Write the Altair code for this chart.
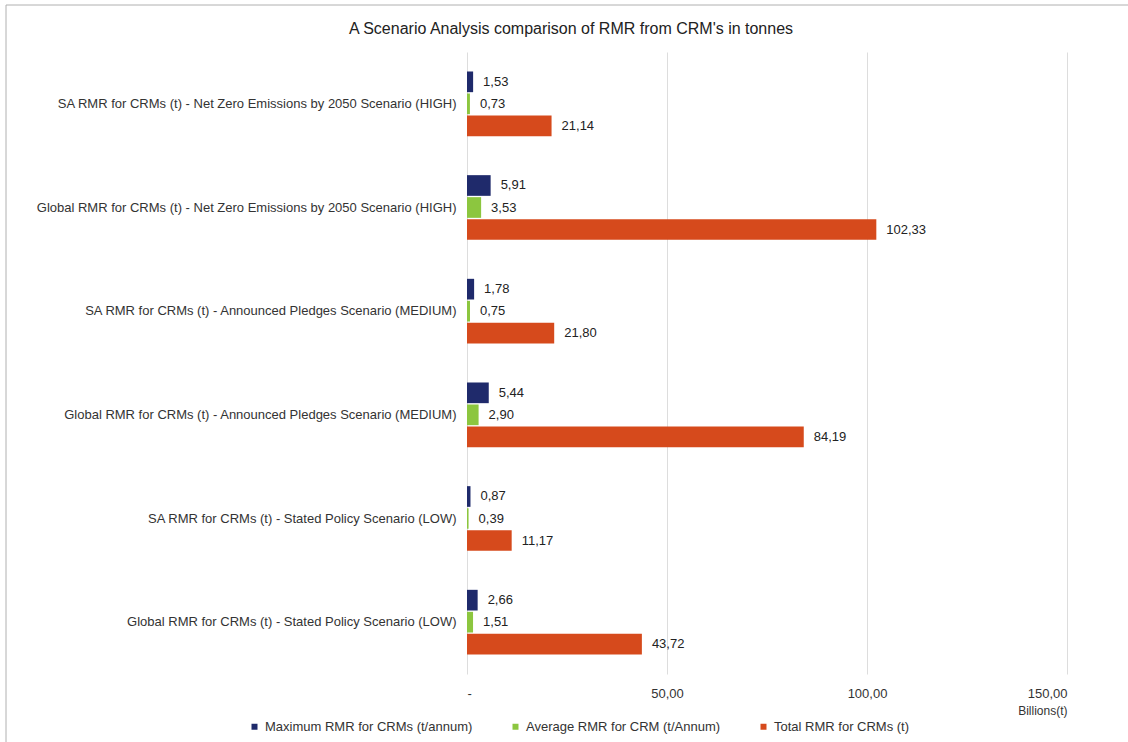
import altair as alt
import pandas as pd

title_text = "A Scenario Analysis comparison of RMR from CRM's in tonnes"
categories = [
    "SA RMR for CRMs (t) - Net Zero Emissions by 2050 Scenario (HIGH)",
    "Global RMR for CRMs (t) - Net Zero Emissions by 2050 Scenario (HIGH)",
    "SA RMR for CRMs (t) - Announced Pledges Scenario (MEDIUM)",
    "Global RMR for CRMs (t) - Announced Pledges Scenario (MEDIUM)",
    "SA RMR for CRMs (t) - Stated Policy Scenario (LOW)",
    "Global RMR for CRMs (t) - Stated Policy Scenario (LOW)",
]
series = [
    "Maximum RMR for CRMs (t/annum)",
    "Average RMR for CRM (t/Annum)",
    "Total RMR for CRMs (t)",
]
max_vals = [1.53, 5.91, 1.78, 5.44, 0.87, 2.66]
avg_vals = [0.73, 3.53, 0.75, 2.90, 0.39, 1.51]
total_vals = [21.14, 102.33, 21.80, 84.19, 11.17, 43.72]
colors = ["#1f2a6b", "#8cc63f", "#d64a1c"]
x_ticks = [0, 50, 100, 150]

rows = []
for s, vals in zip(series, [max_vals, avg_vals, total_vals]):
    for c, v in zip(categories, vals):
        rows.append({"cat": c, "series": s, "value": v,
                     "label": f"{v:.2f}".replace(".", ",")})
df = pd.DataFrame(rows)

FONT = "Liberation Sans"

x_enc = alt.X("value:Q", scale=alt.Scale(domain=[0, 150], nice=False),
              title="Billions(t)",
              axis=alt.Axis(values=x_ticks, domain=False, ticks=False,
                            labelExpr="datum.value == 0 ? '-' : replace(format(datum.value, '.2f'), '.', ',')",
                            labelFontSize=13, labelColor="#333333", labelFont=FONT,
                            labelPadding=13, gridColor="#dddddd",
                            titleFontSize=12, titleFont=FONT, titleFontWeight="normal",
                            titleColor="#333333", titleAlign="right", titleX=600,
                            titleY=36, titleBaseline="middle"))

base = alt.Chart(df).encode(
    y=alt.Y("cat:N", sort=categories, title=None,
            scale=alt.Scale(paddingInner=0.376, paddingOuter=0.188),
            axis=alt.Axis(domain=False, ticks=False, grid=False, labelFontSize=13,
                          labelColor="#333333", labelFont=FONT, labelLimit=460,
                          labelPadding=11)),
    yOffset=alt.YOffset("series:N", sort=series,
                        scale=alt.Scale(paddingInner=0.06, paddingOuter=0)),
    x=x_enc,
)

bars = base.mark_bar().encode(
    color=alt.Color("series:N", sort=series,
                    scale=alt.Scale(domain=series, range=colors),
                    legend=alt.Legend(title=None, orient="none", direction="horizontal",
                                      legendX=-219, legendY=668, symbolType="square",
                                      symbolSize=36, labelFontSize=13, labelFont=FONT,
                                      labelColor="#333333", columnPadding=36,
                                      labelLimit=320, symbolStrokeWidth=0)),
)

texts = base.mark_text(align="left", baseline="middle", dx=10, fontSize=13,
                       font=FONT, color="#222222").encode(
    text="label:N",
)

one_df = pd.DataFrame({"t": [title_text]})
frame = alt.Chart(one_df).mark_rect(fill="transparent", stroke="#b0b0b0",
                                    strokeWidth=1).encode(
    x=alt.value(-461), x2=alt.value(700),
    y=alt.value(-47), y2=alt.value(720),
)
title_mark = alt.Chart(one_df).mark_text(fontSize=16, font=FONT, color="#222222",
                                         align="center", baseline="middle").encode(
    x=alt.value(104), y=alt.value(-23), text="t:N",
)

chart = alt.layer(frame, title_mark, bars, texts).properties(
    width=600,
    height=622,
    autosize=alt.AutoSizeParams(type="none"),
    padding={"left": 467, "top": 52, "right": 61, "bottom": 68},
    view=alt.ViewBackground(stroke="transparent", strokeWidth=0),
).configure_view(stroke="transparent", strokeWidth=0).configure_axis(
    domain=False, ticks=False
).configure(background="white")

chart.save("out.html", embed_options={"renderer": "svg", "actions": False})
